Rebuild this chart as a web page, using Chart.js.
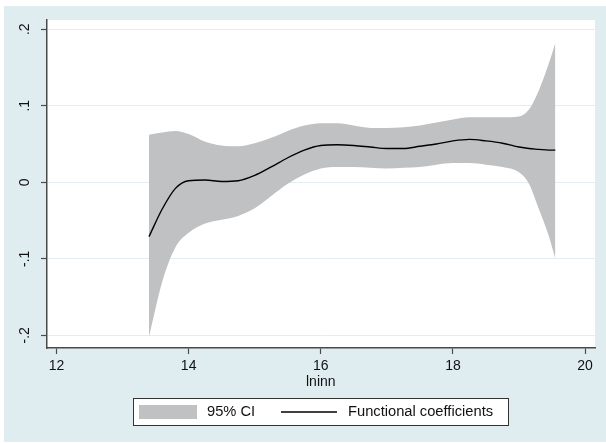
<!DOCTYPE html>
<html>
<head>
<meta charset="utf-8">
<script src="https://cdn.jsdelivr.net/npm/chart.js@4/dist/chart.umd.min.js"></script>
<style>
  html, body { margin: 0; padding: 0; background: #fff; }
  #wrap { width: 606px; height: 443px; }
</style>
</head>
<body>
<div id="wrap"><canvas id="chartCoef" width="606" height="443"></canvas></div>
<script>
// valores (lninn)
const lninn = [13.4, 13.6, 13.8, 14.0, 14.25, 14.5, 14.75, 15.0, 15.25, 15.5, 15.75, 16.0, 16.25, 16.5,
    16.75, 17.0, 17.25, 17.5, 17.75, 18.0, 18.25, 18.5, 18.75, 19.0, 19.15, 19.3, 19.45, 19.55];
const coefFuncional = [-0.071, -0.035, -0.008, 0.002, 0.003, 0.001, 0.002, 0.009, 0.020, 0.032, 0.042, 0.048, 0.049, 0.048,
    0.046, 0.044, 0.044, 0.047, 0.050, 0.054, 0.056, 0.054, 0.051, 0.046, 0.044, 0.043, 0.042, 0.042];
const icSuperior = [0.062, 0.065, 0.067, 0.063, 0.053, 0.048, 0.047, 0.051, 0.058, 0.067, 0.074, 0.077, 0.077, 0.074,
    0.071, 0.071, 0.072, 0.074, 0.078, 0.082, 0.085, 0.085, 0.085, 0.086, 0.095, 0.120, 0.155, 0.182];
const icInferior = [-0.202, -0.130, -0.085, -0.066, -0.054, -0.049, -0.044, -0.034, -0.018, -0.002, 0.010, 0.018, 0.020, 0.020,
    0.019, 0.018, 0.019, 0.020, 0.023, 0.025, 0.025, 0.023, 0.020, 0.013, -0.002, -0.035, -0.070, -0.100];
const xTicks = [12, 14, 16, 18, 20];
const yTicks = [-0.2, -0.1, 0, 0.1, 0.2];
const yTickLabels = ['-.2', '-.1', '0', '.1', '.2'];
const xTitulo = 'lninn';
const legendaItens = ['95% CI', 'Functional coefficients'];

const FONTE = '"Liberation Sans", Arial, sans-serif';
const COR_FUNDO = '#e0edf0';
const COR_BANDA = '#c0c1c3';
const COR_EIXO = '#4a4a4a';

const pontos = arr => arr.map((v, i) => ({ x: lninn[i], y: v }));

// fundo estilo Stata + rótulos verticais do eixo y + título + legenda
const estiloStata = {
    id: 'estiloStata',
    beforeDraw(chart) {
        const { ctx, chartArea: a } = chart;
        ctx.save();
        ctx.fillStyle = '#fff';
        ctx.fillRect(0, 0, chart.width, chart.height);
        ctx.fillStyle = COR_FUNDO;
        ctx.fillRect(4, 6, chart.width - 4, 436);
        ctx.fillStyle = '#fff';
        ctx.fillRect(a.left, a.top, a.right - a.left, a.bottom - a.top);
        ctx.restore();
    },
    afterDraw(chart) {
        const { ctx } = chart;
        const ys = chart.scales.y;
        const xs = chart.scales.x;
        ctx.save();
        ctx.fillStyle = '#111';
        ctx.font = '14px ' + FONTE;
        ctx.textAlign = 'center';
        ctx.textBaseline = 'middle';
        yTicks.forEach((v, i) => {
            ctx.save();
            ctx.translate(25, ys.getPixelForValue(v));
            ctx.rotate(-Math.PI / 2);
            ctx.fillText(yTickLabels[i], 0, 0);
            ctx.restore();
        });
        ctx.fillText(xTitulo, xs.getPixelForValue(16), 382);

        // legenda
        ctx.fillStyle = '#fff';
        ctx.fillRect(133, 398, 376, 28);
        ctx.strokeStyle = '#333';
        ctx.lineWidth = 1;
        ctx.strokeRect(133.5, 398.5, 375, 27);
        ctx.fillStyle = COR_BANDA;
        ctx.fillRect(139, 405, 58, 14);
        ctx.strokeStyle = '#000';
        ctx.lineWidth = 1.3;
        ctx.beginPath();
        ctx.moveTo(281, 412);
        ctx.lineTo(337, 412);
        ctx.stroke();
        ctx.fillStyle = '#111';
        ctx.font = '14.7px ' + FONTE;
        ctx.textAlign = 'left';
        ctx.fillText(legendaItens[0], 207, 412);
        ctx.fillText(legendaItens[1], 348, 412);
        ctx.restore();
    }
};

new Chart(document.getElementById('chartCoef'), {
    type: 'line',
    data: {
        datasets: [{
            label: 'lower',
            data: pontos(icInferior),
            borderWidth: 0,
            borderColor: 'rgba(0,0,0,0)',
            pointRadius: 0,
            fill: false,
            order: 2,
            cubicInterpolationMode: 'monotone'
        }, {
            label: legendaItens[0],
            data: pontos(icSuperior),
            borderWidth: 0,
            borderColor: 'rgba(0,0,0,0)',
            backgroundColor: COR_BANDA,
            pointRadius: 0,
            fill: '-1',
            order: 1,
            cubicInterpolationMode: 'monotone'
        }, {
            label: legendaItens[1],
            data: pontos(coefFuncional),
            borderColor: '#000',
            borderWidth: 1.4,
            pointRadius: 0,
            fill: false,
            order: 0,
            cubicInterpolationMode: 'monotone'
        }]
    },
    plugins: [estiloStata],
    options: {
        responsive: false,
        animation: false,
        layout: { padding: { top: 20, right: 11, left: 0, bottom: 0 } },
        scales: {
            x: {
                type: 'linear',
                min: 11.856,
                max: 20.15,
                afterBuildTicks(s) { s.ticks = xTicks.map(v => ({ value: v })); },
                afterFit(s) { s.height = 95; },
                ticks: {
                    color: '#111',
                    font: { size: 14, family: FONTE },
                    padding: 4,
                    maxRotation: 0,
                    callback: v => String(v)
                },
                grid: {
                    drawOnChartArea: false,
                    drawTicks: true,
                    tickLength: 6,
                    tickColor: COR_EIXO,
                    tickWidth: 1.2
                },
                border: { color: COR_EIXO, width: 1.5 }
            },
            y: {
                type: 'linear',
                min: -0.2166,
                max: 0.212,
                afterBuildTicks(s) { s.ticks = yTicks.map(v => ({ value: v })); },
                afterFit(s) { s.width = 47; },
                ticks: { display: false },
                grid: {
                    color: '#e1eef2',
                    lineWidth: 1,
                    drawTicks: true,
                    tickLength: 6,
                    tickColor: COR_EIXO,
                    tickWidth: 1.2
                },
                border: { color: COR_EIXO, width: 1.5 }
            }
        },
        plugins: {
            legend: { display: false },
            tooltip: { enabled: false }
        }
    }
});
</script>
</body>
</html>
